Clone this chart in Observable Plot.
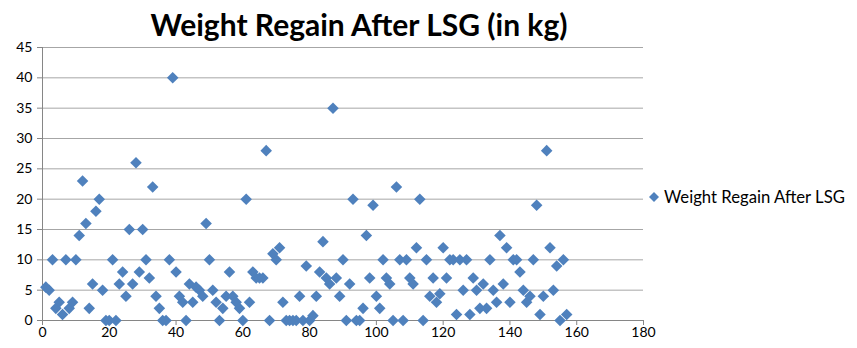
<!DOCTYPE html>
<html>
<head>
<meta charset="utf-8">
<script src="https://cdn.jsdelivr.net/npm/d3@7"></script>
<script src="https://cdn.jsdelivr.net/npm/@observablehq/plot@0.6"></script>
<style>
  html, body { margin: 0; padding: 0; background: #fff; }
  #wrap { position: relative; width: 857px; height: 348px; font-family: Lato, "Open Sans", sans-serif; color: #000; overflow: hidden; }
  #title { position: absolute; top: 0; left: 359px; transform: translateX(-50%); white-space: nowrap;
           font-weight: bold; font-size: 30px; line-height: 49px; }
  #chart { position: absolute; top: 40px; left: 0; }
  #legend { position: absolute; left: 648px; top: 187px; height: 20px; display: flex; align-items: center; white-space: nowrap; font-size: 16.7px; }
  #legend svg { margin-right: 4px; }
</style>
</head>
<body>
<div id="wrap">
  <div id="title">Weight Regain After LSG (in kg)</div>
  <div id="chart"></div>
  <div id="legend"><svg width="12" height="12" viewBox="-6 -6 12 12"><path d="M0,-5L5,0L0,5L-5,0Z" fill="#4F81BD"></path></svg><span>Weight Regain After LSG</span></div>
</div>
<script>
// Patient index (x) and weight regain in kg (y)
const patient = [
  1,2,3,4,5,6,7,8,9,10,11,12,13,14,15,16,17,18,19,20,
  21,22,23,24,25,26,27,28,29,30,31,32,33,34,35,36,37,38,39,40,
  41,42,43,44,45,46,47,48,49,50,51,52,53,54,55,56,57,58,59,60,
  61,62,63,64,65,66,67,68,69,70,71,72,73,74,75,76,77,78,79,80,
  81,82,83,84,85,86,87,88,89,90,91,92,93,94,95,96,97,98,99,100,
  101,102,103,104,105,106,107,108,109,110,111,112,113,114,115,116,117,118,119,120,
  121,122,123,124,125,126,127,128,129,130,131,132,133,134,135,136,137,138,139,140,
  141,142,143,144,145,146,147,148,149,150,151,152,153,154,155,156,157
];
const weightRegain = [
  5.5,5,10,2,3,1,10,2,3,10,14,23,16,2,6,18,20,5,0,0,
  10,0,6,8,4,15,6,26,8,15,10,7,22,4,2,0,0,10,40,8,
  4,3,0,6,3,5.5,5,4,16,10,5,3,0,2,4,8,4,3,2,0,
  20,3,8,7,7,7,28,0,11,10,12,3,0,0,0,0,4,0,9,0,
  0.8,4,8,13,7,6,35,7,4,10,0,6,20,0,0,2,14,7,19,4,
  2,10,7,6,0,22,10,0,10,7,6,12,20,0,10,4,7,3,4.4,12,
  7,10,10,1,10,5,10,1,7,5,2,6,2,10,5,3,14,6,12,3,
  10,10,8,5,3,4,10,19,1,4,28,12,5,9,0,10,1
];
const xTicks = [0,20,40,60,80,100,120,140,160,180];
const yTicks = [0,5,10,15,20,25,30,35,40,45];

const data = patient.map((p, i) => ({x: p, y: weightRegain[i]}));
const gridColor = "#a6a6a6";
const axisColor = "#868686";
const dotColor = "#4F81BD";

const chart = Plot.plot({
  width: 857,
  height: 308,
  marginTop: 7,
  marginLeft: 42,
  marginRight: 214,
  marginBottom: 28,
  style: {fontFamily: "Lato, 'Open Sans', sans-serif", fontSize: "14px", color: "#000", background: "transparent", overflow: "visible"},
  x: {domain: [0, 180], ticks: xTicks, tickSize: 5, tickPadding: 2, label: null},
  y: {domain: [0, 45], ticks: yTicks, tickSize: 5, tickPadding: 5, label: null},
  marks: [
    Plot.ruleY(yTicks.filter(d => d > 0), {stroke: gridColor, strokeWidth: 1}),
    Plot.ruleY([0], {stroke: axisColor, strokeWidth: 1}),
    Plot.ruleX([0], {stroke: axisColor, strokeWidth: 1}),
    Plot.dot(data, {x: "x", y: "y", symbol: d3.symbolDiamond2 || "diamond", r: 5.2, fill: dotColor, stroke: "none"})
  ]
});
document.getElementById("chart").appendChild(chart);
chart.querySelectorAll('g[aria-label*="axis"] line, g[aria-label*="axis"] path').forEach(el => {
  el.setAttribute("stroke", axisColor);
});
</script>
</body>
</html>
